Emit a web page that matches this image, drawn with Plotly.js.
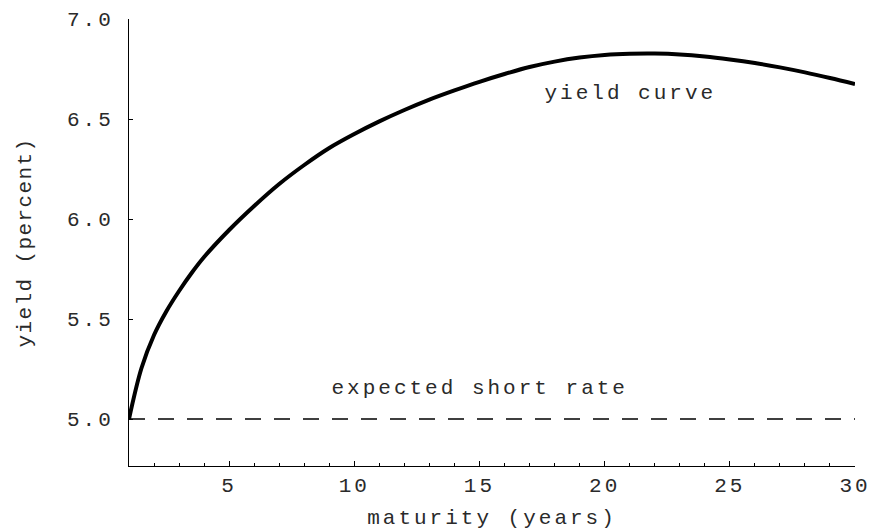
<!DOCTYPE html>
<html>
<head>
<meta charset="utf-8">
<script src="https://cdn.plot.ly/plotly-3.0.1.min.js"></script>
<style>
  html, body { margin: 0; padding: 0; background: #fff; }
  #chart { width: 872px; height: 532px; }
  #chart .main-svg text { letter-spacing: 3px; }
  #chart .main-svg .ytitle { letter-spacing: 1.4px; }
</style>
</head>
<body>
<div id="chart"></div>
<script>
// Yield curve (percent) by maturity (years)
const maturity = [1, 1.5, 2, 2.5, 3, 3.5, 4, 5, 6, 7, 8, 9, 10, 11, 12, 13, 14, 15,
                  16, 17, 18, 19, 20, 21, 22, 23, 24, 25, 26, 27, 28, 29, 30];
const yieldCurve = [5.00, 5.255, 5.42, 5.54, 5.64, 5.73, 5.81, 5.945, 6.065, 6.175, 6.27,
                    6.355, 6.425, 6.488, 6.545, 6.597, 6.643, 6.686, 6.725, 6.76, 6.787,
                    6.807, 6.82, 6.826, 6.827, 6.823, 6.813, 6.798, 6.78, 6.758, 6.733,
                    6.705, 6.675];
// Expected short rate (flat)
const shortRateMaturity = [1, 30];
const shortRate = [5.0, 5.0];

// Labels
const curveLabel = "yield curve";
const curveLabelPos = [21.05, 6.63];
const shortLabel = "expected short rate";
const shortLabelPos = [15.0, 5.155];
const xTitle = "maturity (years)";
const yTitle = "yield (percent)";

const FONT = "'Liberation Mono', 'Courier New', monospace";
const FS = 21;
const TXT = '#2a2a2a';

const traces = [
  {
    x: maturity, y: yieldCurve, type: 'scatter', mode: 'lines',
    line: {color: '#000', width: 4, shape: 'spline', smoothing: 1},
    hoverinfo: 'skip', showlegend: false
  },
  {
    x: shortRateMaturity, y: shortRate, type: 'scatter', mode: 'lines',
    line: {color: '#000', width: 1.5, dash: '16px,13px'},
    hoverinfo: 'skip', showlegend: false
  }
];

const layout = {
  width: 872, height: 532,
  margin: {l: 129, r: 17, t: 19, b: 66},
  paper_bgcolor: '#fff', plot_bgcolor: '#fff',
  font: {family: FONT, size: FS, color: TXT},
  showlegend: false,
  xaxis: {
    range: [1, 30], tick0: 0, dtick: 5,
    ticks: 'inside', ticklen: 5, tickwidth: 1, tickcolor: '#000',
    minor: {dtick: 1, tick0: 0, ticks: 'inside', ticklen: 3, tickwidth: 1, tickcolor: '#000'},
    showline: true, linecolor: '#000', linewidth: 1,
    showgrid: false, zeroline: false,
    tickfont: {family: FONT, size: FS, color: TXT},
    ticklabelstandoff: 0,
    title: {text: xTitle, font: {family: FONT, size: FS, color: TXT}, standoff: 12},
    fixedrange: true
  },
  yaxis: {
    range: [4.765, 7.0], tick0: 5, dtick: 0.5, tickformat: '.1f',
    ticks: 'inside', ticklen: 4, tickwidth: 1, tickcolor: '#000',
    showline: true, linecolor: '#000', linewidth: 1,
    showgrid: false, zeroline: false,
    tickfont: {family: FONT, size: FS, color: TXT},
    ticklabelstandoff: 10,
    title: {text: yTitle, font: {family: FONT, size: FS, color: TXT}, standoff: 38},
    fixedrange: true
  },
  annotations: [
    {x: curveLabelPos[0], y: curveLabelPos[1], xref: 'x', yref: 'y', text: curveLabel,
     showarrow: false, font: {family: FONT, size: FS, color: TXT}},
    {x: shortLabelPos[0], y: shortLabelPos[1], xref: 'x', yref: 'y', text: shortLabel,
     showarrow: false, font: {family: FONT, size: FS, color: TXT}}
  ]
};

Plotly.newPlot('chart', traces, layout, {displayModeBar: false, staticPlot: true});
</script>
</body>
</html>
